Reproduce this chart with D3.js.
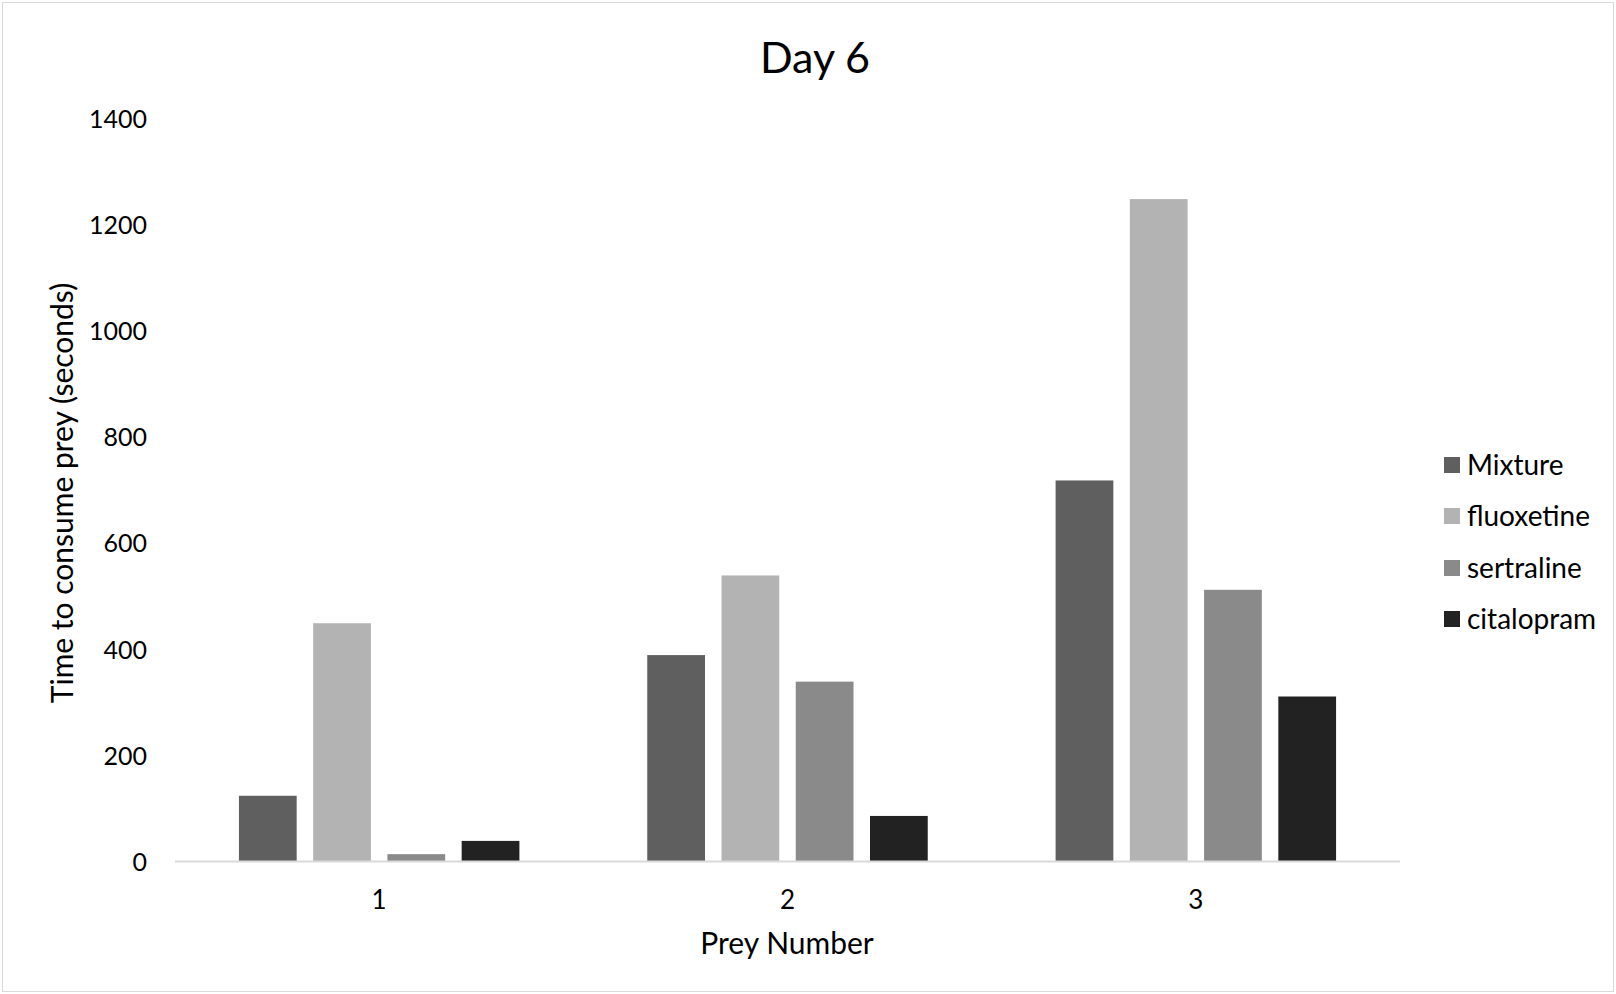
<!DOCTYPE html>
<html>
<head>
<meta charset="utf-8">
<script src="https://cdn.jsdelivr.net/npm/d3@7"></script>
<style>
  html, body { margin: 0; padding: 0; background: #fff; }
  svg { display: block; }
  text { font-family: Lato, "Open Sans", sans-serif; fill: #000; }
</style>
</head>
<body>
<svg id="chart" width="1616" height="994"></svg>
<script>
// Prey numbers along the x axis
const categories = ["1", "2", "3"];
// Treatments, in legend order
const seriesNames = ["Mixture", "fluoxetine", "sertraline", "citalopram"];
// Time to consume prey (seconds) per treatment, one value per prey number
const mixture    = [124, 389, 718];
const fluoxetine = [449, 539, 1248];
const sertraline = [14, 339, 512];
const citalopram = [39, 86, 311];
// Y axis tick values
const yTicks = [0, 200, 400, 600, 800, 1000, 1200, 1400];

const seriesValues = [mixture, fluoxetine, sertraline, citalopram];
const colors = ["#5f5f5f", "#b3b3b3", "#8a8a8a", "#222222"];

const W = 1616, H = 994;
const plot = { left: 175, right: 1400, top: 118.4, bottom: 861.6 };

const svg = d3.select("#chart");

// outer frame
svg.append("rect")
  .attr("x", 2.5).attr("y", 2.5)
  .attr("width", W - 5).attr("height", H - 5)
  .attr("fill", "#fff").attr("stroke", "#d9d9d9").attr("stroke-width", 1);

const x0 = d3.scaleBand().domain(categories).range([plot.left, plot.right]).padding(0);
const bw = x0.bandwidth();
const x1 = d3.scaleBand().domain(seriesNames)
  .range([bw * 62 / 396, bw * 334 / 396])
  .paddingInner(16 / 72).paddingOuter(0);
const y = d3.scaleLinear().domain([0, 1400]).range([plot.bottom, plot.top]);

// bars
const rows = categories.map((c, i) => ({
  cat: c,
  vals: seriesNames.map((s, j) => ({ key: s, value: seriesValues[j][i], color: colors[j] }))
}));

svg.append("g").selectAll("g")
  .data(rows).join("g")
  .attr("transform", d => `translate(${x0(d.cat)},0)`)
  .selectAll("rect")
  .data(d => d.vals).join("rect")
  .attr("x", d => x1(d.key))
  .attr("y", d => y(d.value))
  .attr("width", x1.bandwidth())
  .attr("height", d => y(0) - y(d.value))
  .attr("fill", d => d.color);

// x axis line
svg.append("line")
  .attr("x1", plot.left).attr("x2", plot.right)
  .attr("y1", y(0)).attr("y2", y(0))
  .attr("stroke", "#d9d9d9").attr("stroke-width", 2);

// x axis labels
const xAxis = d3.axisBottom(x0).tickSize(0).tickPadding(0);
const gx = svg.append("g").attr("transform", `translate(0,${y(0)})`).call(xAxis);
gx.select(".domain").remove();
gx.selectAll("text")
  .attr("y", 47).attr("dy", null)
  .style("font-family", "Lato, sans-serif")
  .style("font-size", "26px").attr("fill", "#000");

// y axis labels
const yAxis = d3.axisLeft(y).tickValues(yTicks).tickFormat(d3.format("d"))
  .tickSize(0).tickPadding(0);
const gy = svg.append("g").attr("transform", `translate(147,0)`).call(yAxis);
gy.select(".domain").remove();
gy.selectAll("text")
  .attr("dy", "0.35em")
  .style("font-family", "Lato, sans-serif")
  .style("font-size", "25px").attr("fill", "#000");

// title
svg.append("text")
  .attr("x", 815).attr("y", 73)
  .attr("text-anchor", "middle")
  .style("font-size", "43px")
  .text("Day 6");

// axis titles
svg.append("text")
  .attr("x", 787).attr("y", 954)
  .attr("text-anchor", "middle")
  .style("font-size", "30px")
  .text("Prey Number");

svg.append("text")
  .attr("transform", "translate(73,493) rotate(-90)")
  .attr("text-anchor", "middle")
  .style("font-size", "30px")
  .text("Time to consume prey (seconds)");

// legend
const legend = svg.append("g").attr("transform", "translate(1444,0)");
const legendY = [465, 516, 568, 619];
seriesNames.forEach((s, i) => {
  legend.append("rect")
    .attr("x", 0).attr("y", legendY[i] - 8)
    .attr("width", 16).attr("height", 16)
    .attr("fill", colors[i]);
  legend.append("text")
    .attr("x", 23).attr("y", legendY[i])
    .attr("dy", "0.35em")
    .style("font-size", "28px")
    .text(s);
});
</script>
</body>
</html>
